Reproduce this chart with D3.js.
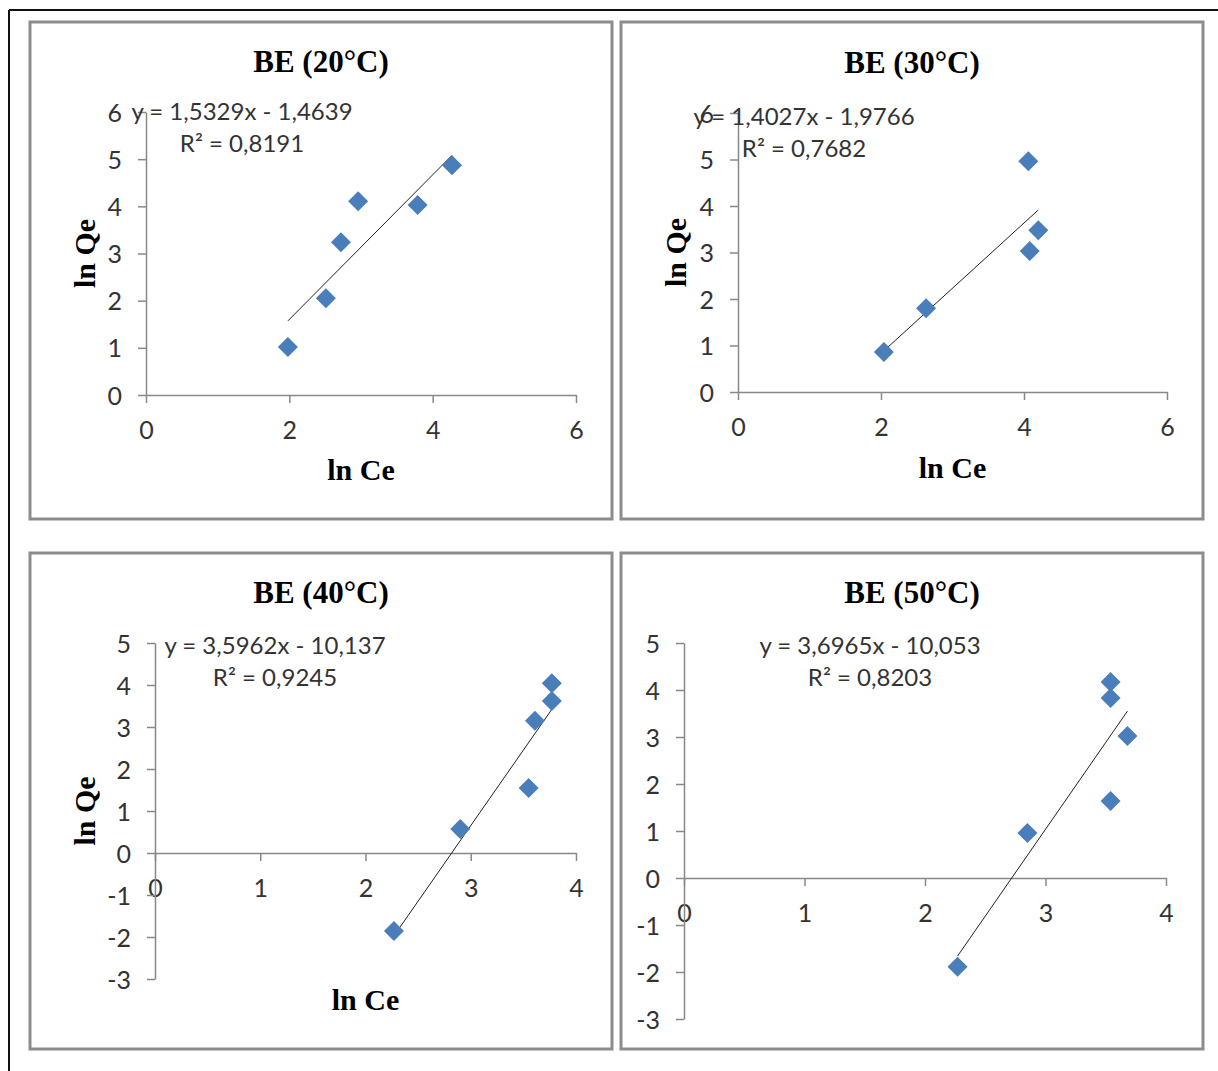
<!DOCTYPE html>
<html>
<head>
<meta charset="utf-8">
<script src="https://cdn.jsdelivr.net/npm/d3@7"></script>
<style>
  html, body { margin: 0; padding: 0; background: #fff; }
  svg { display: block; }
</style>
</head>
<body>
<div id="chart"></div>
<script>
// chart values
const panelTitles = ['BE (20°C)', 'BE (30°C)', 'BE (40°C)', 'BE (50°C)']

const lnCe20 = [1.98, 2.51, 2.72, 2.96, 3.79, 4.27]
const lnQe20 = [1.02, 2.05, 3.24, 4.11, 4.03, 4.87]
const lnCe30 = [2.04, 2.63, 4.06, 4.08, 4.2]
const lnQe30 = [0.86, 1.8, 4.96, 3.03, 3.48]
const lnCe40 = [2.27, 2.9, 3.55, 3.61, 3.77, 3.77]
const lnQe40 = [-1.86, 0.57, 1.55, 3.15, 3.62, 4.04]
const lnCe50 = [2.27, 2.85, 3.54, 3.54, 3.54, 3.68]
const lnQe50 = [-1.89, 0.96, 1.64, 3.83, 4.17, 3.02]

const slopes = [1.5329, 1.4027, 3.5962, 3.6965]
const intercepts = [-1.4639, -1.9766, -10.137, -10.053]
const equations = [
  'y = 1,5329x - 1,4639',
  'y = 1,4027x - 1,9766',
  'y = 3,5962x - 10,137',
  'y = 3,6965x - 10,053',
]
const rSquared = ['R² = 0,8191', 'R² = 0,7682', 'R² = 0,9245', 'R² = 0,8203']

const xDomains = [[0, 6], [0, 6], [0, 4], [0, 4]]
const yDomains = [[0, 6], [0, 6], [-3, 5], [-3, 5]]
const xTicks = [[0, 2, 4, 6], [0, 2, 4, 6], [0, 1, 2, 3, 4], [0, 1, 2, 3, 4]]
const yTicks = [
  [0, 1, 2, 3, 4, 5, 6],
  [0, 1, 2, 3, 4, 5, 6],
  [-3, -2, -1, 0, 1, 2, 3, 4, 5],
  [-3, -2, -1, 0, 1, 2, 3, 4, 5],
]
const xTitles = ['ln Ce', 'ln Ce', 'ln Ce', '']
const yTitles = ['ln Qe', 'ln Qe', 'ln Qe', '']

const seriesX = [lnCe20, lnCe30, lnCe40, lnCe50]
const seriesY = [lnQe20, lnQe30, lnQe40, lnQe50]

// page layout (pixels)
const layout = [
  { box: [30, 22, 612, 519], xr: [146, 576], yr: [395, 112], titleY: 72,
    eq: [242, 120], xTitleY: 480, yTitleX: 95 },
  { box: [621, 22, 1203, 519], xr: [738, 1167], yr: [392, 113], titleY: 73,
    eq: [804, 125], xTitleY: 478, yTitleX: 686 },
  { box: [30, 553, 612, 1049], xr: [155, 576], yr: [979, 643], titleY: 603,
    eq: [275, 654], xTitleY: 1010, yTitleX: 95 },
  { box: [621, 553, 1203, 1049], xr: [684, 1166], yr: [1019, 643], titleY: 603,
    eq: [870, 654], xTitleY: 0, yTitleX: 0 },
]

const numFont = 'Lato, "Open Sans", sans-serif'
const serifFont = '"Liberation Serif", "Times New Roman", serif'
const textColor = '#333'
const axisColor = '#888'
const markColor = '#4a7ebb'

// plain integers with an ascii hyphen, like the original
const tickFmt = d => String(d)

const svg = d3
  .select('#chart')
  .append('svg')
  .attr('width', 1218)
  .attr('height', 1071)

// outer table border (top and left only show in the picture)
svg.append('line')
  .attr('x1', 9).attr('x2', 1218).attr('y1', 10).attr('y2', 10)
  .attr('stroke', '#111').attr('stroke-width', 2)
svg.append('line')
  .attr('x1', 9).attr('x2', 9).attr('y1', 10).attr('y2', 1071)
  .attr('stroke', '#111').attr('stroke-width', 2)

panelTitles.forEach((title, i) => {
  const L = layout[i]
  const g = svg.append('g').attr('class', 'panel')

  // panel frame
  g.append('rect')
    .attr('x', L.box[0]).attr('y', L.box[1])
    .attr('width', L.box[2] - L.box[0]).attr('height', L.box[3] - L.box[1])
    .attr('fill', '#fff').attr('stroke', '#8c8c8c').attr('stroke-width', 3)

  // title
  g.append('text')
    .attr('x', (L.box[0] + L.box[2]) / 2)
    .attr('y', L.titleY)
    .attr('text-anchor', 'middle')
    .style('font-family', serifFont)
    .style('font-weight', 'bold')
    .style('font-size', '31px')
    .style('fill', '#000')
    .text(title)

  // scales
  const x = d3.scaleLinear().domain(xDomains[i]).range(L.xr)
  const y = d3.scaleLinear().domain(yDomains[i]).range(L.yr)

  // x axis sits at y = 0
  const xAxis = g.append('g')
    .attr('transform', `translate(0,${y(0)})`)
    .call(d3.axisBottom(x).tickValues(xTicks[i]).tickFormat(tickFmt)
      .tickSizeInner(8).tickSizeOuter(0))
  const yAxis = g.append('g')
    .attr('transform', `translate(${x(0)},0)`)
    .call(d3.axisLeft(y).tickValues(yTicks[i]).tickFormat(tickFmt)
      .tickSizeInner(8).tickSizeOuter(0))

  ;[xAxis, yAxis].forEach(ax => {
    ax.select('.domain').attr('stroke', axisColor).attr('stroke-width', 1.5)
    ax.selectAll('.tick line').attr('stroke', axisColor).attr('stroke-width', 1.5)
    ax.selectAll('.tick text')
      .style('font-family', numFont)
      .style('font-size', '25px')
      .style('fill', textColor)
  })
  xAxis.selectAll('.tick text').attr('y', 35).attr('dy', '0.36em')
  yAxis.selectAll('.tick text').attr('x', -24).attr('dy', '0.36em')

  // trendline over the data's x range
  const [xMin, xMax] = d3.extent(seriesX[i])
  g.append('line')
    .attr('x1', x(xMin)).attr('y1', y(slopes[i] * xMin + intercepts[i]))
    .attr('x2', x(xMax)).attr('y2', y(slopes[i] * xMax + intercepts[i]))
    .attr('stroke', '#222').attr('stroke-width', 1)

  // diamond markers
  const diamond = d3.symbol().type(d3.symbolSquare).size(200)
  g.selectAll('.pt')
    .data(seriesX[i].map((v, k) => [v, seriesY[i][k]]))
    .join('path')
    .attr('class', 'pt')
    .attr('d', diamond)
    .attr('transform', d => `translate(${x(d[0])},${y(d[1])}) rotate(45)`)
    .attr('fill', markColor)

  // trendline label
  g.append('text')
    .attr('x', L.eq[0]).attr('y', L.eq[1])
    .attr('text-anchor', 'middle')
    .style('font-family', numFont).style('font-size', '24px').style('fill', textColor)
    .text(equations[i])
  g.append('text')
    .attr('x', L.eq[0]).attr('y', L.eq[1] + 32)
    .attr('text-anchor', 'middle')
    .style('font-family', numFont).style('font-size', '24px').style('fill', textColor)
    .text(rSquared[i])

  // axis titles
  if (xTitles[i]) {
    g.append('text')
      .attr('x', (L.xr[0] + L.xr[1]) / 2)
      .attr('y', L.xTitleY)
      .attr('text-anchor', 'middle')
      .style('font-family', serifFont).style('font-weight', 'bold')
      .style('font-size', '30px').style('fill', '#000')
      .text(xTitles[i])
  }
  if (yTitles[i]) {
    g.append('text')
      .attr('transform', `translate(${L.yTitleX},${(L.yr[0] + L.yr[1]) / 2}) rotate(-90)`)
      .attr('text-anchor', 'middle')
      .style('font-family', serifFont).style('font-weight', 'bold')
      .style('font-size', '30px').style('fill', '#000')
      .text(yTitles[i])
  }
})
</script>
</body>
</html>
